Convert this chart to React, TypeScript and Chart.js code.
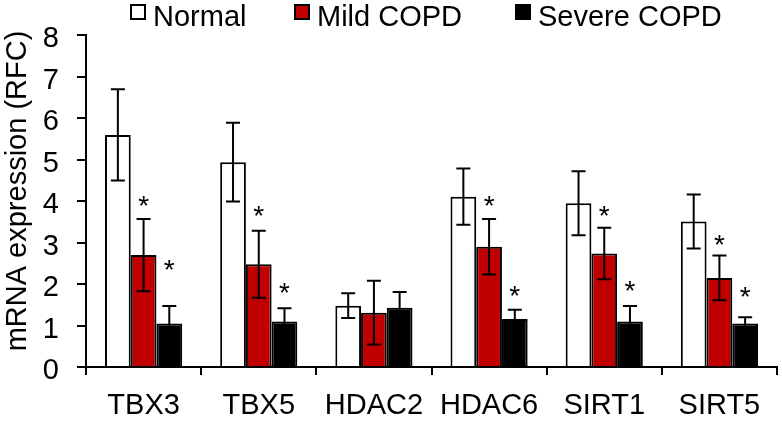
import React, { useEffect, useRef } from "react";
import { Chart, registerables } from "chart.js";

Chart.register(...registerables);

const categories = ["TBX3", "TBX5", "HDAC2", "HDAC6", "SIRT1", "SIRT5"];
const seriesNames = ["Normal", "Mild COPD", "Severe COPD"];
const normal = [5.6, 4.94, 1.48, 4.11, 3.95, 3.51];
const normalErr = [1.1, 0.95, 0.3, 0.68, 0.77, 0.65];
const mild = [2.7, 2.48, 1.31, 2.9, 2.74, 2.15];
const mildErr = [0.87, 0.81, 0.77, 0.67, 0.62, 0.54];
const severe = [1.05, 1.1, 1.43, 1.16, 1.1, 1.05];
const severeErr = [0.42, 0.32, 0.38, 0.22, 0.37, 0.15];
// heights (in RFC units) of the significance asterisks; null = none
const normalSig: (number | null)[] = [null, null, null, null, null, null];
const mildSig: (number | null)[] = [4.06, 3.82, null, 4.06, 3.82, 3.11];
const severeSig: (number | null)[] = [2.52, 1.96, null, 1.89, 2.0, 1.87];
const yTicks = [0, 1, 2, 3, 4, 5, 6, 7, 8];
const yTitle = "mRNA expression (RFC)";

const FONT = "'Liberation Sans', Arial, sans-serif";

const errorBarPlugin = {
  id: "errorBars",
  afterDatasetsDraw(chart: any) {
    const { ctx } = chart;
    const y = chart.scales.y;
    chart.data.datasets.forEach((ds: any, i: number) => {
      const meta = chart.getDatasetMeta(i);
      meta.data.forEach((bar: any, j: number) => {
        const v = ds.data[j];
        const e = ds.errors[j];
        const x = bar.x;
        const yt = y.getPixelForValue(v + e);
        const yb = y.getPixelForValue(v - e);
        ctx.save();
        ctx.strokeStyle = "#000";
        ctx.lineWidth = 2;
        ctx.beginPath();
        ctx.moveTo(x, yt);
        ctx.lineTo(x, yb);
        ctx.moveTo(x - 7, yt);
        ctx.lineTo(x + 7, yt);
        ctx.moveTo(x - 7, yb);
        ctx.lineTo(x + 7, yb);
        ctx.stroke();
        const s = ds.sig[j];
        if (s !== null && s !== undefined) {
          const size = 28;
          ctx.fillStyle = "#000";
          ctx.font = `${size}px ${FONT}`;
          ctx.textAlign = "center";
          ctx.textBaseline = "alphabetic";
          ctx.fillText("*", x, y.getPixelForValue(s) + size * 0.58);
        }
        ctx.restore();
      });
    });
  },
};

const legendPlugin = {
  id: "customLegend",
  afterDraw(chart: any) {
    const opts = chart.options.plugins.customLegend;
    const { ctx } = chart;
    ctx.save();
    chart.data.datasets.forEach((ds: any, i: number) => {
      const x = opts.x[i];
      const box = 16;
      ctx.fillStyle = ds.backgroundColor;
      ctx.fillRect(x, opts.y, box, box);
      ctx.strokeStyle = "#000";
      ctx.lineWidth = 2;
      ctx.strokeRect(x + 1, opts.y + 1, box - 2, box - 2);
      ctx.fillStyle = "#000";
      ctx.font = `${opts.size}px ${FONT}`;
      ctx.textAlign = "left";
      ctx.textBaseline = "alphabetic";
      ctx.fillText(ds.label, x + box + 7, opts.baseline);
    });
    // y-axis title
    const t = opts.title;
    ctx.translate(t.x, t.y);
    ctx.rotate(-Math.PI / 2);
    ctx.font = `${opts.size}px ${FONT}`;
    ctx.textAlign = "center";
    ctx.textBaseline = "middle";
    ctx.fillText(t.text, 0, 0);
    ctx.restore();
  },
};

export default function App() {
  const ref = useRef<HTMLCanvasElement>(null);
  useEffect(() => {
    if (!ref.current) return;
    const chart = new Chart(ref.current, {
      type: "bar",
      data: {
        labels: categories,
        datasets: [
          {
            label: seriesNames[0],
            data: normal,
            errors: normalErr,
            sig: normalSig,
            backgroundColor: "#ffffff",
            borderColor: "#000000",
            borderWidth: 2,
          } as any,
          {
            label: seriesNames[1],
            data: mild,
            errors: mildErr,
            sig: mildSig,
            backgroundColor: "#c00000",
            borderColor: "#000000",
            borderWidth: 2,
          } as any,
          {
            label: seriesNames[2],
            data: severe,
            errors: severeErr,
            sig: severeSig,
            backgroundColor: "#000000",
            borderColor: "#000000",
            borderWidth: 2,
          } as any,
        ],
      },
      options: {
        animation: false,
        responsive: false,
        layout: { padding: { top: 31, right: 5, left: 0, bottom: 0 } },
        datasets: { bar: { categoryPercentage: 0.67, barPercentage: 1.0 } },
        plugins: {
          legend: { display: false },
          tooltip: { enabled: false },
          customLegend: {
            x: [130, 294, 515],
            y: 4,
            baseline: 26,
            size: 29,
            title: { text: yTitle, x: 18, y: 191 },
          },
        } as any,
        scales: {
          x: {
            grid: {
              display: true,
              drawOnChartArea: false,
              offset: true,
              tickLength: 8,
              color: "#000",
              lineWidth: 2,
            },
            border: { color: "#000", width: 2 },
            ticks: { color: "#000", font: { family: FONT, size: 29 }, padding: 14 },
            afterFit: (s: any) => {
              s.height = 54;
            },
          },
          y: {
            min: 0,
            max: 8,
            afterBuildTicks: (s: any) => {
              s.ticks = yTicks.map((v) => ({ value: v }));
            },
            ticks: {
              color: "#000",
              font: { family: FONT, size: 29 },
              padding: 18,
              labelOffset: 4,
            },
            grid: { drawOnChartArea: false, tickLength: 9, color: "#000", lineWidth: 2 },
            border: { color: "#000", width: 2 },
            afterFit: (s: any) => {
              s.width = 86;
            },
          },
        },
      } as any,
      plugins: [errorBarPlugin, legendPlugin],
    });
    return () => chart.destroy();
  }, []);
  return (
    <div style={{ position: "fixed", left: 0, top: 0, width: 782, height: 421, background: "#fff" }}>
      <canvas ref={ref} width={782} height={421} style={{ display: "block" }} />
    </div>
  );
}
